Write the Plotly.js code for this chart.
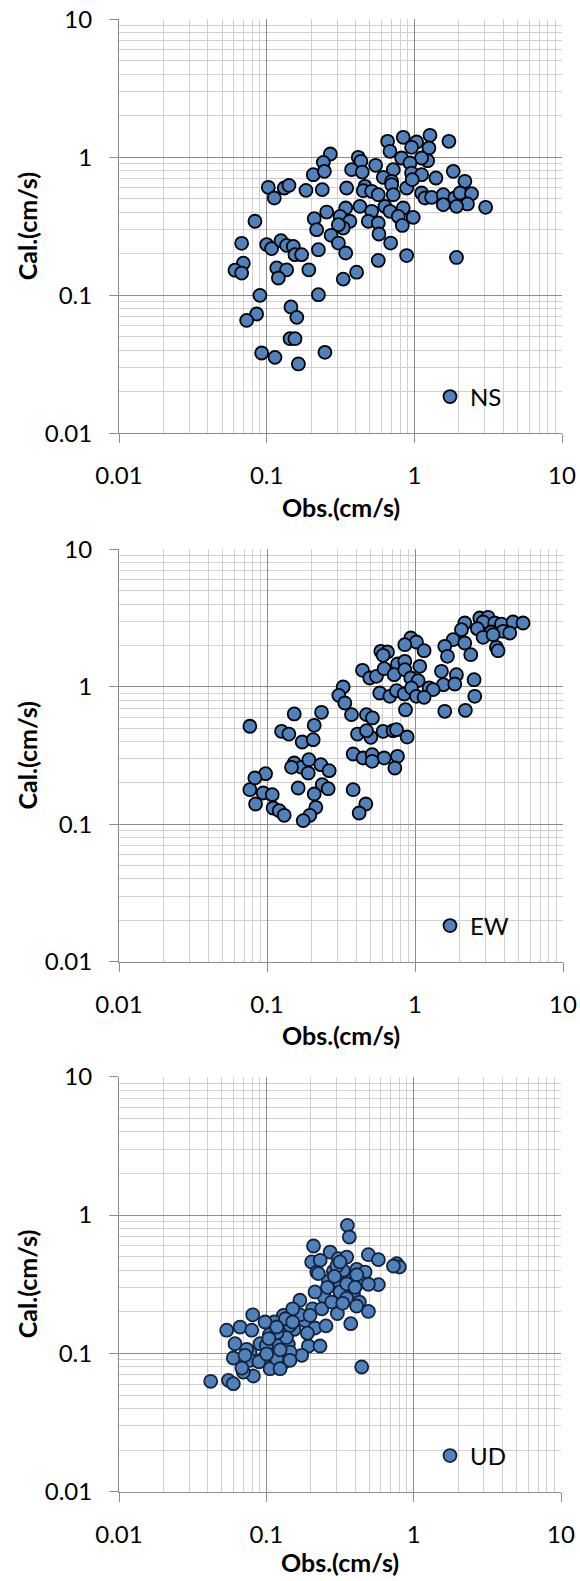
<!DOCTYPE html>
<html>
<head>
<meta charset="utf-8">
<script src="https://cdn.plot.ly/plotly-3.0.1.min.js"></script>
<style>
  html, body { margin: 0; padding: 0; background: #ffffff; }
  #chart { width: 580px; height: 1581px; }
</style>
</head>
<body>
<div id="chart"></div>
<script>
// ---- Data ----
const seriesNames = ['NS', 'EW', 'UD'];
const tickValues = [0.01, 0.1, 1, 10];
const tickLabels = ['0.01', '0.1', '1', '10'];
const xTitleText = 'Obs.(cm/s)';
const yTitleText = 'Cal.(cm/s)';

const nsObs = [0.659,0.841,1.036,1.276,1.715,0.684,0.958,1.256,0.820,1.23,
  1.12,0.270,0.242,0.417,0.435,0.547,0.207,0.246,0.376,0.444,
  0.720,0.934,0.616,0.702,0.958,1.12,1.40,1.835,2.20,0.1026,
  0.1126,0.1316,0.1416,0.1845,0.238,0.348,0.463,0.451,0.514,0.570,
  0.702,0.720,0.887,0.968,1.12,1.18,1.309,1.57,1.88,2.04,
  2.44,2.29,1.57,1.93,3.04,0.428,0.514,0.632,0.684,0.841,
  0.779,0.983,0.829,0.255,0.343,0.314,0.210,0.366,0.488,0.570,
  0.218,0.330,0.306,0.273,0.306,0.576,0.691,0.0833,0.0677,0.100,
  0.108,0.125,0.1365,0.1515,0.1555,0.1725,0.224,0.343,0.887,1.93,
  0.570,0.0695,0.061,0.0677,0.117,0.1365,0.120,0.193,0.330,0.4065,
  0.090,0.224,0.0855,0.0732,0.146,0.160,0.144,0.1555,0.0925,0.1138,0.248,0.164];
const nsCal = [1.305,1.395,1.291,1.443,1.305,1.105,1.181,1.168,0.988,0.945,
  0.988,1.057,0.919,1.0,0.935,0.875,0.748,0.791,0.814,0.782,
  0.814,0.909,0.716,0.670,0.769,0.748,0.708,0.791,0.670,0.606,
  0.507,0.599,0.626,0.576,0.583,0.599,0.616,0.573,0.567,0.536,
  0.633,0.536,0.599,0.689,0.551,0.507,0.513,0.536,0.507,0.551,
  0.545,0.459,0.454,0.441,0.434,0.441,0.406,0.441,0.406,0.429,
  0.373,0.367,0.321,0.401,0.429,0.373,0.359,0.344,0.344,0.334,
  0.299,0.307,0.325,0.272,0.239,0.278,0.239,0.344,0.238,0.233,
  0.218,0.249,0.230,0.226,0.197,0.197,0.214,0.2025,0.194,0.188,
  0.179,0.171,0.152,0.145,0.158,0.153,0.1335,0.153,0.131,0.147,
  0.0999,0.101,0.0732,0.0658,0.0823,0.0692,0.0485,0.0485,0.0382,0.0355,0.0386,0.0318];

const ewObs = [2.169,2.739,3.117,2.884,3.458,3.835,4.598,5.373,2.06,2.641,
  3.283,3.936,4.367,1.809,2.169,2.884,3.369,1.589,3.548,3.641,
  1.657,2.381,0.9367,1.023,0.8534,1.152,0.5875,0.6516,0.609,0.7616,
  0.8534,1.077,0.4418,0.495,0.549,0.6187,0.723,0.8534,0.9367,1.05,
  1.509,1.905,2.507,1.556,1.857,1.246,1.326,0.327,0.3057,0.3357,
  0.578,0.676,0.7498,0.8446,0.9465,1.023,1.152,2.533,0.8623,1.589,
  2.19,0.3724,0.470,0.516,0.2336,0.2084,0.1527,0.0766,0.1254,0.1405,
  0.1729,0.2051,0.4088,0.503,0.470,0.609,0.7115,0.7498,0.8848,0.382,
  0.4464,0.5134,0.6187,0.7616,0.7307,0.5134,0.1527,0.1712,0.1918,0.2312,
  0.263,0.190,0.1465,0.1624,0.236,0.259,0.2084,0.2138,0.1948,0.1757,
  0.382,0.4653,0.4195,0.0978,0.0828,0.0766,0.0943,0.1085,0.0837,0.110,0.121,0.1307];
const ewCal = [2.91,3.165,3.20,2.96,2.91,2.86,2.96,2.91,2.603,2.647,
  2.503,2.531,2.461,2.201,2.082,2.289,2.393,1.968,1.936,1.83,
  1.665,1.712,2.264,2.117,2.024,1.83,1.81,1.79,1.693,1.464,
  1.531,1.408,1.317,1.158,1.191,1.354,1.225,1.331,1.158,1.108,
  1.295,1.225,1.126,1.036,1.047,0.98,0.953,0.996,0.866,0.762,
  0.901,0.852,0.937,0.886,0.98,0.852,0.838,0.852,0.681,0.663,
  0.674,0.627,0.627,0.593,0.652,0.524,0.634,0.516,0.474,0.453,
  0.3965,0.4123,0.453,0.429,0.4795,0.474,0.4795,0.4875,0.431,0.3243,
  0.3032,0.3207,0.3032,0.3118,0.2565,0.2868,0.279,0.2594,0.2949,0.2713,
  0.2453,0.2359,0.2594,0.1835,0.194,0.1814,0.1659,0.1327,0.1161,0.1062,
  0.1784,0.1404,0.1207,0.2333,0.2169,0.1784,0.1687,0.1641,0.1404,0.1312,0.1255,0.1161];

const udObs = [0.355,0.366,0.209,0.271,0.203,0.232,0.308,0.351,0.493,0.576,
  0.768,0.80,0.729,0.220,0.264,0.285,0.333,0.411,0.468,0.316,
  0.380,0.433,0.576,0.246,0.214,0.316,0.390,0.428,0.493,0.3035,
  0.374,0.169,0.206,0.157,0.183,0.1305,0.113,0.214,0.254,0.0808,
  0.0663,0.0538,0.0796,0.0613,0.105,0.121,0.141,0.193,0.2315,0.174,
  0.154,0.1305,0.0597,0.0775,0.0775,0.0954,0.109,0.1305,0.106,0.0817,
  0.0698,0.0553,0.0597,0.0419,0.444,0.098,0.145,0.0906,0.1176,
  0.169,0.198,0.238,0.278,0.351,0.41,0.137,0.118,0.10,0.089,0.0736,0.145,0.351,0.301,0.411,0.493,
  0.2255,0.316,0.151,0.135,0.151,0.1176,0.104,0.124,0.1005,0.0716,0.0682,0.124,0.1448,0.26,0.29,0.40,0.33,0.19];
const udCal = [0.842,0.694,0.597,0.540,0.458,0.4705,0.484,0.497,0.517,0.476,
  0.445,0.421,0.428,0.387,0.332,0.392,0.398,0.405,0.387,0.324,
  0.337,0.328,0.314,0.258,0.278,0.278,0.270,0.235,0.201,0.194,
  0.164,0.242,0.210,0.183,0.173,0.188,0.1685,0.1525,0.158,0.190,
  0.155,0.147,0.147,0.1175,0.1365,0.114,0.116,0.113,0.113,0.0968,
  0.149,0.1595,0.0926,0.1023,0.0891,0.0916,0.0968,0.0857,0.0775,0.0686,
  0.0733,0.0638,0.0604,0.0628,0.0797,0.1685,0.1595,0.1175,0.0916,
  0.19,0.188,0.210,0.235,0.25,0.22,0.13,0.141,0.114,0.087,0.107,0.102,0.318,0.428,0.37,0.316,
  0.377,0.458,0.210,0.178,0.1685,0.1551,0.128,0.106,0.099,0.0968,0.0783,0.0775,0.0891,0.30,0.36,0.30,0.23,0.14];

// ---- Layout helpers ----
const W = 580, H = 1581;
const FONT = 'Lato, "Open Sans", sans-serif';
const MAJOR = '#8c8c8c', MINOR = '#d0d0d0';
const FILL = '#4f81bd';

// plot boxes in pixels [left, right, top, bottom]
const boxes = [
  [119, 562, 19.3, 433.3],
  [119, 563, 549.3, 961.7],
  [119, 561, 1076.7, 1491.7]
];

function axisCommon() {
  return {
    type: 'log', range: [-2, 1], fixedrange: true,
    tickmode: 'array', tickvals: tickValues, ticktext: tickLabels,
    ticks: 'outside', ticklen: 9, tickwidth: 1, tickcolor: MAJOR,
    showgrid: true, gridcolor: MAJOR, gridwidth: 1,
    minor: { tickmode: 'linear', dtick: 'D1', showgrid: true, gridcolor: MINOR, gridwidth: 1, ticks: '' },
    showline: true, linecolor: MAJOR, linewidth: 1, mirror: false,
    zeroline: false,
    tickfont: { family: FONT, size: 24, color: '#000' },
    ticklabelstandoff: 12
  };
}

const layout = {
  width: W, height: H,
  margin: { l: 0, r: 0, t: 0, b: 0, pad: 0 },
  paper_bgcolor: '#ffffff', plot_bgcolor: '#ffffff',
  showlegend: true,
  annotations: []
};

const xs = [nsObs, ewObs, udObs];
const ys = [nsCal, ewCal, udCal];
const legendY = [397, 926, 1456];
const xTitleY = [507, 1034.6, 1562];
const edgeColors = ['#000000', '#000000', '#14233a'];
const traces = [];

boxes.forEach((b, i) => {
  const n = i === 0 ? '' : String(i + 1);
  const xa = axisCommon();
  xa.domain = [b[0] / W, b[1] / W];
  xa.anchor = 'y' + n;
  const ya = axisCommon();
  ya.domain = [1 - b[3] / H, 1 - b[2] / H];
  ya.anchor = 'x' + n;
  layout['xaxis' + n] = xa;
  layout['yaxis' + n] = ya;

  const legKey = 'legend' + n;
  layout[legKey] = {
    x: 430 / W, y: 1 - legendY[i] / H, xanchor: 'left', yanchor: 'middle',
    bgcolor: 'rgba(0,0,0,0)', borderwidth: 0,
    font: { family: FONT, size: 24, color: '#000' }
  };

  traces.push({
    type: 'scatter', mode: 'markers',
    x: xs[i], y: ys[i],
    xaxis: 'x' + n, yaxis: 'y' + n,
    name: seriesNames[i], legend: legKey, showlegend: true,
    marker: { color: FILL, size: 13, line: { color: edgeColors[i], width: 1.8 } },
    hoverinfo: 'x+y'
  });

  const cx = (b[0] + b[1]) / 2 / W;
  const cy = 1 - (b[2] + b[3]) / 2 / H;
  layout.annotations.push({
    xref: 'paper', yref: 'paper', x: cx, y: 1 - xTitleY[i] / H,
    xanchor: 'center', yanchor: 'middle', showarrow: false,
    text: xTitleText,
    font: { family: FONT, size: 25, color: '#000', weight: 'bold' }
  });
  layout.annotations.push({
    xref: 'paper', yref: 'paper', x: 27 / W, y: cy,
    xanchor: 'center', yanchor: 'middle', showarrow: false,
    textangle: -90,
    text: yTitleText,
    font: { family: FONT, size: 25, color: '#000', weight: 'bold' }
  });
});

Plotly.newPlot('chart', traces, layout, { displayModeBar: false, staticPlot: true });
</script>
</body>
</html>
